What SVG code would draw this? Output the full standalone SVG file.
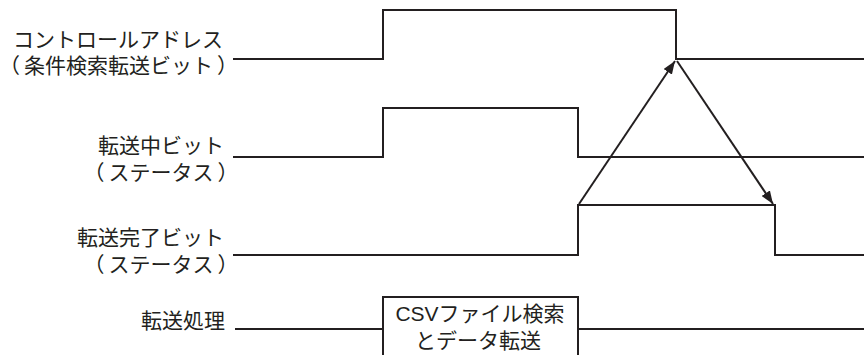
<svg xmlns="http://www.w3.org/2000/svg" width="864" height="355" viewBox="0 0 864 355">
<style>
.sig{fill:none;stroke:#231f20;stroke-width:2;stroke-linejoin:miter}
.arr{fill:none;stroke:#231f20;stroke-width:2}
.lbl{font-family:"Liberation Sans","Noto Sans CJK JP",sans-serif;font-size:21px;fill:#231f20}
</style>
<defs>
<marker id="ah" markerUnits="userSpaceOnUse" markerWidth="14" markerHeight="10" refX="13" refY="5" orient="auto">
<path d="M0,0 L13,5 L0,10 z" fill="#231f20"/>
</marker>
</defs>
<rect width="864" height="355" fill="#fff"/>
<g id="sig-control">
<text class="lbl" x="118" y="47" text-anchor="middle">コントロールアドレス</text>
<text class="lbl" x="118.5" y="73" text-anchor="middle">（<tspan dx="4">条件検索転送ビット</tspan><tspan dx="4">）</tspan></text>
<path class="sig" d="M233,59 H383 V10 H676 V59 H864"/>
</g>
<g id="sig-busy">
<text class="lbl" x="224" y="153" text-anchor="end">転送中ビット</text>
<text class="lbl" x="161" y="180" text-anchor="middle">（<tspan dx="4">ステータス</tspan><tspan dx="4">）</tspan></text>
<path class="sig" d="M233,157 H383 V108 H578 V157 H864"/>
</g>
<g id="sig-done">
<text class="lbl" x="224" y="245" text-anchor="end">転送完了ビット</text>
<text class="lbl" x="161" y="272" text-anchor="middle">（<tspan dx="4">ステータス</tspan><tspan dx="4">）</tspan></text>
<path class="sig" d="M233,255 H578 V205 H775 V255 H864"/>
</g>
<g id="sig-process">
<text class="lbl" x="225" y="328" text-anchor="end">転送処理</text>
<path class="sig" d="M235,329 H383 M578,329 H864"/>
<path class="sig" d="M383,360 V297 H578 V360"/>
<text class="lbl" x="480" y="321" text-anchor="middle">CSVファイル検索</text>
<text class="lbl" x="478" y="348" text-anchor="middle">とデータ転送</text>
</g>
<g id="connectors">
<line class="arr" x1="579" y1="204" x2="675" y2="61" marker-end="url(#ah)"/>
<line class="arr" x1="677" y1="61" x2="773" y2="204" marker-end="url(#ah)"/>
</g>
</svg>
